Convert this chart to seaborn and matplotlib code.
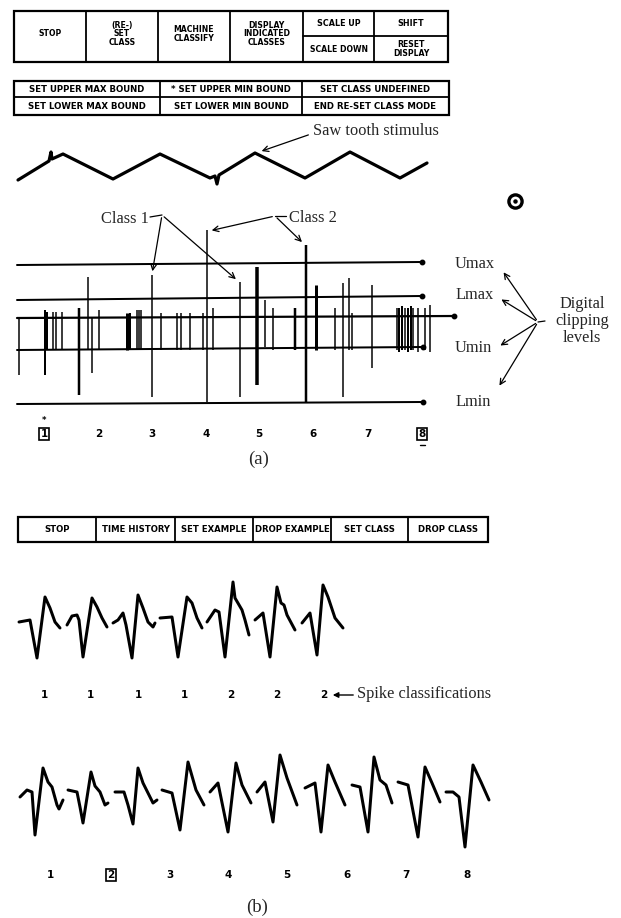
import pandas as pd
import seaborn as sns
import matplotlib.pyplot as plt
from matplotlib.patches import Rectangle

# ---- data (pixel units of the 621x918 page) ----

# menu bars
top_menu = ['STOP', '(RE-)\nSET\nCLASS', 'MACHINE\nCLASSIFY', 'DISPLAY\nINDICATED\nCLASSES']
top_menu_split = [('SCALE UP', 'SCALE DOWN'), ('SHIFT', 'RESET\nDISPLAY')]
bound_menu_top = ['SET UPPER MAX BOUND', '* SET UPPER MIN BOUND', 'SET CLASS UNDEFINED']
bound_menu_bottom = ['SET LOWER MAX BOUND', 'SET LOWER MIN BOUND', 'END RE-SET CLASS MODE']
bottom_menu = ['STOP', 'TIME HISTORY', 'SET EXAMPLE', 'DROP EXAMPLE', 'SET CLASS', 'DROP CLASS']

# saw tooth stimulus
saw_x = [18, 49, 51, 52, 63, 113, 160, 210, 215, 217, 219, 255, 305, 350, 400, 427]
saw_y = [180, 161, 152, 159, 154, 179, 154, 178, 176, 184, 175, 153, 178, 152, 178, 163]

# clipping levels: name, y at left end, y at right end, right end x
level_names = ['Umax', 'Lmax', 'Umin', 'Lmin']
level_y_left = [265, 300, 350, 404]
level_y_right = [262, 296, 347, 402]
level_x_end = [422, 422, 423, 423]
base_y = (318, 316)

# spikes crossing the baseline: x, top, bottom, pen width (px)
spike_x = [19, 45, 47, 53, 56, 62, 79, 88, 92, 99, 127, 130, 137, 139, 141, 152, 161,
           177, 181, 190, 203, 207, 213, 240, 257, 265, 273, 295, 306, 316, 335, 343,
           349, 352, 372, 397, 399, 402, 405, 408, 411, 413, 418, 425, 430]
spike_top = [318, 310, 312, 312, 312, 312, 308, 277, 318, 310, 313, 313, 310, 310, 310, 275, 313,
             313, 313, 313, 313, 230, 308, 282, 267, 300, 308, 308, 245, 285, 308, 283,
             278, 313, 285, 308, 308, 306, 308, 308, 306, 308, 308, 308, 305]
spike_bottom = [375, 375, 350, 350, 350, 350, 395, 350, 373, 350, 350, 350, 350, 350, 350, 397, 350,
                350, 350, 350, 350, 402, 350, 397, 385, 347, 350, 350, 402, 350, 350, 397,
                350, 350, 368, 350, 352, 350, 350, 352, 350, 350, 352, 350, 352]
spike_w = [1.5, 2, 2, 1.5, 1.5, 1.5, 2.5, 1.5, 1.5, 1.5, 3, 2, 1.5, 1.5, 1.5, 1.5, 1.5,
           1.5, 1.5, 1.5, 1.5, 1.5, 1.5, 1.5, 3.5, 1.5, 1.5, 2.5, 2.5, 3, 1.5, 1.5,
           1.5, 1.5, 1.5, 1.5, 2, 2, 1.5, 2, 2, 1.5, 1.5, 1.5, 1.5]

index_a = ['1', '2', '3', '4', '5', '6', '7', '8']
index_a_x = [44, 99, 152, 206, 259, 313, 368, 422]

# spike traces (b): one list of points per spike
trace1 = [
    [(19, 622), (30, 620), (37, 658), (45, 597), (50, 608), (55, 622), (60, 628)],
    [(67, 625), (72, 616), (77, 615), (79, 620), (83, 657), (92, 598), (97, 607), (102, 618), (107, 627)],
    [(113, 623), (118, 620), (123, 613), (126, 625), (132, 658), (138, 595), (143, 608), (148, 622), (153, 627), (155, 623)],
    [(160, 618), (172, 617), (178, 657), (187, 597), (192, 603), (197, 618), (202, 628)],
    [(207, 622), (215, 610), (219, 612), (225, 657), (233, 582), (235, 598), (242, 610), (245, 620), (249, 635)],
    [(255, 620), (263, 613), (270, 657), (277, 587), (281, 603), (284, 605), (287, 615), (295, 630)],
    [(302, 623), (310, 613), (317, 655), (323, 585), (328, 597), (335, 618), (343, 628)],
]
classes1 = ['1', '1', '1', '1', '2', '2', '2']
classes1_x = [44, 90, 138, 184, 231, 277, 324]

trace2 = [
    [(20, 797), (27, 790), (32, 792), (35, 835), (43, 768), (48, 782), (52, 787), (57, 805), (59, 809), (63, 800)],
    [(68, 790), (77, 792), (80, 807), (83, 823), (91, 772), (95, 786), (100, 792), (105, 805), (108, 803)],
    [(115, 792), (124, 792), (128, 805), (133, 824), (138, 768), (143, 783), (148, 793), (153, 803), (157, 800)],
    [(162, 790), (172, 793), (180, 830), (188, 762), (196, 790), (204, 805)],
    [(210, 792), (218, 783), (228, 832), (236, 763), (242, 785), (251, 803)],
    [(257, 792), (265, 782), (273, 822), (280, 755), (287, 778), (297, 805)],
    [(305, 788), (315, 783), (321, 832), (328, 765), (335, 782), (345, 805)],
    [(352, 785), (360, 787), (368, 832), (374, 757), (380, 780), (386, 785), (392, 803)],
    [(398, 782), (408, 785), (418, 837), (425, 767), (432, 783), (440, 802)],
    [(446, 792), (453, 792), (459, 797), (465, 847), (473, 765), (481, 782), (489, 800)],
]
index_b = ['1', '2', '3', '4', '5', '6', '7', '8']
index_b_x = [50, 111, 170, 228, 287, 347, 406, 467]


def traces_frame(traces):
    rows = []
    for k, pts in enumerate(traces):
        for i, (x, y) in enumerate(pts):
            rows.append({'x': x, 'y': y, 'spike': k, 'order': i})
    return pd.DataFrame(rows)


sns.set_theme(style='white')
plt.rcParams['font.family'] = ['DejaVu Sans']
SERIF = ['Liberation Serif', 'DejaVu Serif']
K = 'black'
px = 0.72  # points per pixel at 100 dpi

fig = plt.figure(figsize=(6.21, 9.18), dpi=100)
ax = fig.add_axes([0, 0, 1, 1])
ax.set_xlim(0, 621)
ax.set_ylim(918, 0)
ax.axis('off')

stencil = dict(fontweight='bold', ha='center', va='center', color=K)

# ---- top menu ----
cols = [14, 86, 158, 230, 303, 374, 448]
y0, ym, y1 = 11, 36, 62
ax.add_patch(Rectangle((cols[0], y0), cols[-1] - cols[0], y1 - y0, fill=False, lw=1.6, ec=K))
for c in cols[1:-1]:
    ax.plot([c, c], [y0, y1], color=K, lw=1.3)
ax.plot([cols[4], cols[6]], [ym, ym], color=K, lw=1.3)
for i, lab in enumerate(top_menu):
    ax.text((cols[i] + cols[i + 1]) / 2, 34, lab, fontsize=5.6, linespacing=0.92, **stencil)
for j, (up, down) in enumerate(top_menu_split):
    cx = (cols[4 + j] + cols[5 + j]) / 2
    ax.text(cx, 24, up, fontsize=5.8, **stencil)
    ax.text(cx, 49, down, fontsize=5.6, linespacing=0.92, **stencil)

# ---- bound menu ----
bcols = [14, 160, 302, 449]
by0, bym, by1 = 81, 97, 115
ax.add_patch(Rectangle((bcols[0], by0), bcols[-1] - bcols[0], by1 - by0, fill=False, lw=1.6, ec=K))
ax.plot([bcols[0], bcols[-1]], [bym, bym], color=K, lw=1.3)
for c in bcols[1:-1]:
    ax.plot([c, c], [by0, by1], color=K, lw=1.3)
for i in range(3):
    cx = (bcols[i] + bcols[i + 1]) / 2
    ax.text(cx, 89.5, bound_menu_top[i], fontsize=6.2, **stencil)
    ax.text(cx, 106.5, bound_menu_bottom[i], fontsize=6.2, **stencil)

# ---- saw tooth stimulus ----
sns.lineplot(x=saw_x, y=saw_y, sort=False, estimator=None, color=K, lw=3.2 * px, ax=ax)
ax.text(313, 131, 'Saw tooth stimulus', family=SERIF, fontsize=11.8, ha='left', va='center')
ax.annotate('', xy=(259, 152), xytext=(311, 134),
            arrowprops=dict(arrowstyle='->', color=K, lw=0.9, mutation_scale=10))
ax.plot([515], [201], marker='o', ms=9.5, mfc='white', mec=K, mew=2.4)
ax.plot([515], [201], marker='o', ms=2.2, color=K)

# ---- clipping levels and spikes ----
for yl, yr, xe in zip(level_y_left, level_y_right, level_x_end):
    ax.plot([17, xe], [yl, yr], color=K, lw=2.0 * px)
    ax.plot([xe], [yr], marker='o', ms=3.2, color=K)
ax.plot([17, 454], list(base_y), color=K, lw=2.2 * px)
ax.plot([454], [base_y[1]], marker='o', ms=3.2, color=K)
ax.vlines(spike_x, spike_top, spike_bottom, colors=K, linewidths=[w * px for w in spike_w])

# class callouts
arrow = dict(arrowstyle='->', color=K, lw=0.9, mutation_scale=10)
ax.text(101, 219, 'Class 1', family=SERIF, fontsize=11.8, ha='left', va='center')
ax.plot([150, 162], [217, 215], color=K, lw=0.9)
ax.annotate('', xy=(152, 274), xytext=(162, 215), arrowprops=arrow)
ax.annotate('', xy=(238, 281), xytext=(162, 215), arrowprops=arrow)
ax.text(289, 218, 'Class 2', family=SERIF, fontsize=11.8, ha='left', va='center')
ax.plot([275, 286], [216, 216], color=K, lw=0.9)
ax.annotate('', xy=(209, 231), xytext=(275, 216), arrowprops=arrow)
ax.annotate('', xy=(304, 244), xytext=(275, 216), arrowprops=arrow)

# level labels
level_label_y = [264, 295, 348, 402]
level_tip = [(502, 270), (499, 298), (498, 347), (498, 388)]
for name, ly in zip(level_names, level_label_y):
    ax.text(455, ly, name, family=SERIF, fontsize=11.8, ha='left', va='center')
hub = (538, 322)
for tip in level_tip:
    ax.annotate('', xy=tip, xytext=hub, arrowprops=arrow)
ax.plot([538, 545], [322, 321], color=K, lw=0.9)
ax.text(582, 321, 'Digital\nclipping\nlevels', family=SERIF, fontsize=11.8,
        ha='center', va='center', linespacing=1.05)

box = dict(boxstyle='square,pad=0.12', fc='white', ec=K, lw=1.2)
for i, (lab, x) in enumerate(zip(index_a, index_a_x)):
    boxed = i in (0, len(index_a) - 1)
    ax.text(x, 434, lab, fontsize=7.5, bbox=box if boxed else None, **stencil)
ax.text(44, 421, '*', fontsize=6, **stencil)
ax.plot([420, 425], [445, 445], color=K, lw=1)
ax.text(259, 459, '(a)', family=SERIF, fontsize=13.5, ha='center', va='center')

# ---- panel (b) ----
mcols = [18, 96, 175, 253, 331, 408, 488]
ax.add_patch(Rectangle((mcols[0], 517), mcols[-1] - mcols[0], 25, fill=False, lw=1.6, ec=K))
for c in mcols[1:-1]:
    ax.plot([c, c], [517, 542], color=K, lw=1.3)
for i, lab in enumerate(bottom_menu):
    ax.text((mcols[i] + mcols[i + 1]) / 2, 529.5, lab, fontsize=6.1, **stencil)

df1 = traces_frame(trace1)
sns.lineplot(data=df1, x='x', y='y', units='spike', estimator=None, sort=False,
             color=K, lw=3 * px, ax=ax)
for lab, x in zip(classes1, classes1_x):
    ax.text(x, 695, lab, fontsize=7.5, **stencil)
ax.annotate('', xy=(330, 695), xytext=(356, 695),
            arrowprops=dict(arrowstyle='-|>', color=K, lw=1, mutation_scale=8))
ax.text(357, 694, 'Spike classifications', family=SERIF, fontsize=11.8, ha='left', va='center')

df2 = traces_frame(trace2)
sns.lineplot(data=df2, x='x', y='y', units='spike', estimator=None, sort=False,
             color=K, lw=3 * px, ax=ax)
for i, (lab, x) in enumerate(zip(index_b, index_b_x)):
    ax.text(x, 875, lab, fontsize=7.5, bbox=box if i == 1 else None, **stencil)
ax.text(257, 907, '(b)', family=SERIF, fontsize=13.5, ha='center', va='center')

ax.set_xlim(0, 621)
ax.set_ylim(918, 0)
fig.savefig('out.png', dpi=100)
